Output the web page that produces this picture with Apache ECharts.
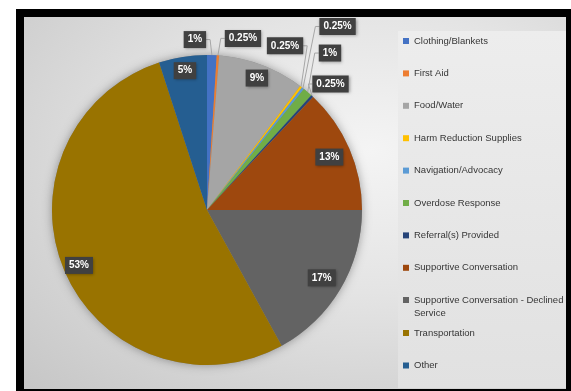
<!DOCTYPE html>
<html>
<head>
<meta charset="utf-8">
<script src="https://cdn.jsdelivr.net/npm/echarts@6/dist/echarts.min.js"></script>
<style>
  html, body { margin: 0; padding: 0; background: #ffffff; }
  #frame {
    position: absolute; left: 16px; top: 9px;
    width: 542px; height: 372px;
    border-style: solid; border-color: #000;
    border-width: 8px 5px 2px 8px;
    background: radial-gradient(ellipse at 64% 36%, #f4f4f4 0%, #e4e4e4 42%, #c6c6c6 100%);
  }
  #chart { position: absolute; left: 0; top: 0; width: 571px; height: 391px; }
</style>
</head>
<body>
<div id="frame"></div>
<div id="chart"></div>
<script>
// Service categories and their share of all contacts (percent)
const categories = [
  'Clothing/Blankets', 'First Aid', 'Food/Water', 'Harm Reduction Supplies',
  'Navigation/Advocacy', 'Overdose Response', 'Referral(s) Provided',
  'Supportive Conversation', 'Supportive Conversation - Declined Service',
  'Transportation', 'Other'
];
const shares = [1, 0.25, 9, 0.25, 0.25, 1, 0.25, 13, 17, 53, 5];

// Office palette, one colour per category
const sliceColors = [
  '#4472C4', '#ED7D31', '#A5A5A5', '#FFC000', '#5B9BD5', '#70AD47',
  '#264478', '#9E480E', '#636363', '#997300', '#255E91'
];

// Label placement: inside labels sit at a fraction of the radius,
// outside labels are offset (box centre) from the slice's rim point.
const labelPlacement = [
  { dx: -17, dy: -15.5 },
  { dx: 25, dy: -17 },
  { inside: 0.91 },
  { dx: -16, dy: -41 },
  { dx: 34.6, dy: -61.8 },
  { dx: 22.3, dy: -39.1 },
  { dx: 18.3, dy: -12.2 },
  { inside: 0.86 },
  { inside: 0.86 },
  { inside: 0.9 },
  { inside: 0.91 }
];

const PIE_CX = 207, PIE_CY = 210, PIE_R = 155;
const total = shares.reduce((a, b) => a + b, 0);

function midAngle(i) {
  let before = 0;
  for (let k = 0; k < i; k++) before += shares[k];
  return (before + shares[i] / 2) / total * Math.PI * 2;
}

const LEGEND_FONT = 'Liberation Sans, Arial, sans-serif';
const LEGEND_SIZE = 9.5;
const LEGEND_WRAP = 152;

// greedy word wrap so long legend entries break without a leading space
const measureCtx = document.createElement('canvas').getContext('2d');
measureCtx.font = LEGEND_SIZE + 'px ' + LEGEND_FONT;
function wrapName(name) {
  const words = name.split(' ');
  const lines = [];
  let line = '';
  words.forEach(w => {
    const trial = line ? line + ' ' + w : w;
    if (line && measureCtx.measureText(trial).width > LEGEND_WRAP) {
      lines.push(line);
      line = w;
    } else {
      line = trial;
    }
  });
  lines.push(line);
  return lines;
}

const chart = echarts.init(document.getElementById('chart'), null, { renderer: 'canvas' });

const labelBox = {
  color: '#ffffff',
  fontFamily: 'Liberation Sans, Arial, sans-serif',
  fontWeight: 'bold',
  fontSize: 10,
  lineHeight: 11,
  backgroundColor: '#404040',
  padding: [3, 4],
  shadowColor: 'rgba(0,0,0,0.35)',
  shadowBlur: 3,
  shadowOffsetX: 1,
  shadowOffsetY: 1,
  formatter: p => p.value + '%'
};

const pieData = categories.map((name, i) => ({
  name,
  value: shares[i],
  itemStyle: { color: sliceColors[i] },
  label: { position: labelPlacement[i].inside ? 'inside' : 'outside' },
  labelLine: { show: !labelPlacement[i].inside }
}));

const legendText = {
  color: '#363636',
  fontFamily: LEGEND_FONT,
  fontSize: LEGEND_SIZE,
  lineHeight: 13
};

const legendCommon = {
  orient: 'vertical',
  left: 403,
  padding: 0,
  itemWidth: 6,
  itemHeight: 6,
  icon: 'rect',
  textStyle: legendText
};

chart.setOption({
  animation: false,
  backgroundColor: 'transparent',
  graphic: [{
    type: 'rect',
    silent: true,
    shape: { x: 398, y: 31, width: 168, height: 357 },
    style: {
      fill: new echarts.graphic.LinearGradient(0, 0, 0, 1, [
        { offset: 0, color: '#ededed' },
        { offset: 1, color: '#e1e1e1' }
      ])
    },
    z: -1
  }],
  legend: [
    Object.assign({}, legendCommon, {
      data: categories.slice(0, 8),
      top: 34.5,
      itemGap: 19.4
    }),
    // two-line entry: an empty first line keeps the swatch level with the first text line
    Object.assign({}, legendCommon, {
      data: categories.slice(8, 9),
      top: 280.5,
      formatter: name => '\n' + wrapName(name).join('\n')
    }),
    Object.assign({}, legendCommon, {
      data: categories.slice(9),
      top: 326.5,
      itemGap: 19.5
    })
  ],
  series: [{
    // soft drop shadow under the whole pie
    type: 'pie',
    silent: true,
    center: [PIE_CX, PIE_CY],
    radius: PIE_R,
    z: 1,
    label: { show: false },
    labelLine: { show: false },
    itemStyle: { color: '#888', shadowBlur: 10, shadowColor: 'rgba(0,0,0,0.35)' },
    data: [{ name: 'all', value: total }]
  }, {
    type: 'pie',
    center: [PIE_CX, PIE_CY],
    radius: PIE_R,
    startAngle: 90,
    clockwise: true,
    avoidLabelOverlap: false,
    z: 2,
    label: labelBox,
    labelLine: {
      length: 10, length2: 5,
      lineStyle: { color: '#a6a6a6', width: 1 }
    },
    emphasis: { disabled: true },
    labelLayout: function (p) {
      const i = p.dataIndex;
      const a = midAngle(i);
      const s = Math.sin(a), c = Math.cos(a);
      const place = labelPlacement[i];
      if (place.inside) {
        return {
          x: PIE_CX + place.inside * PIE_R * s,
          y: PIE_CY - place.inside * PIE_R * c,
          align: 'center', verticalAlign: 'middle'
        };
      }
      const ax = PIE_CX + PIE_R * s, ay = PIE_CY - PIE_R * c;
      const bx = ax + place.dx, by = ay + place.dy;
      const w = p.labelRect.width;
      const edgeX = place.dx < 0 ? bx + w / 2 : bx - w / 2;
      const bendX = place.dx < 0 ? edgeX + 4 : edgeX - 4;
      return {
        x: bx, y: by, align: 'center', verticalAlign: 'middle',
        labelLinePoints: [[ax, ay], [bendX, by], [edgeX, by]]
      };
    },
    data: pieData
  }]
});
</script>
</body>
</html>
